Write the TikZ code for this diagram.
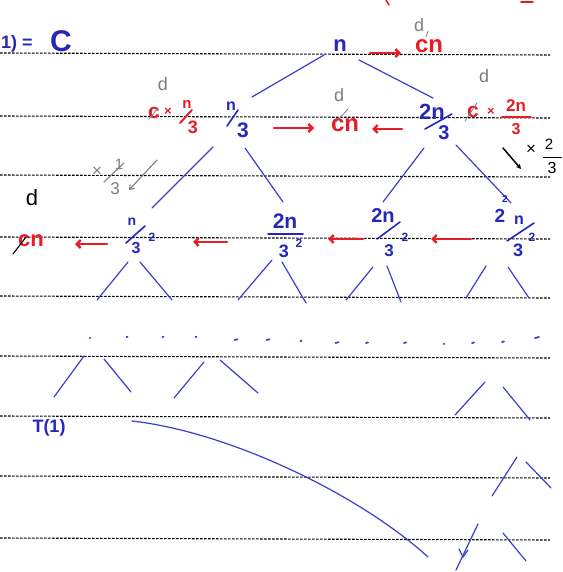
\documentclass[tikz,border=0pt]{standalone}
\usepackage{fontspec}
\setmainfont{Liberation Sans}
\usetikzlibrary{arrows.meta}
\definecolor{inkblue}{RGB}{38,38,185}
\definecolor{edgeblue}{RGB}{62,62,200}
\definecolor{inkred}{RGB}{232,28,38}
\definecolor{pencil}{RGB}{125,125,125}
\newcommand{\fs}[1]{\fontsize{#1}{#1}\selectfont}
\begin{document}
\begin{tikzpicture}[x=1pt,y=-1pt,
  bt/.style={text=inkblue, inner sep=0pt},
  rt/.style={text=inkred, inner sep=0pt},
  gt/.style={text=pencil, inner sep=0pt},
  kt/.style={text=black, inner sep=0pt},
  edge/.style={draw=edgeblue, line width=1.2pt, line cap=round},
  slashb/.style={draw=inkblue, line width=1.6pt, line cap=round},
  slashr/.style={draw=inkred, line width=2pt, line cap=round},
  rarr/.style={draw=inkred, line width=2.4pt, line cap=round, -{Straight Barb[length=4pt,width=8pt]}},
  rulel/.style={draw=black, line width=1.1pt, dash pattern=on 2.6pt off 1.4pt},
  greymark/.style={draw=pencil, line width=0.8pt, line cap=round},
  dotm/.style={draw=edgeblue, line width=1.8pt, line cap=round}]
\useasboundingbox (0,0) rectangle (562,572);
\fill[white] (0,0) rectangle (562,572);

% ruled lines
\foreach \y in {53,116,175,237,296,356,416,476,538}
  \draw[rulel] (0,\y) -- (550,{\y+2});

% top fragments (cut off)
\draw[slashr, line width=1.6pt] (386,0) -- (389,5);
\draw[slashr, line width=1.6pt] (521,2) -- (533,2);

% top-left
\node[bt, anchor=base west, font=\fs{18}\bfseries] (tl) at (1,49) {1) =};
\node[bt, anchor=base west, font=\fs{30}\bfseries] (tlc) at (50,52) {C};

% root
\node[bt, font=\fs{22}\bfseries] (root) at (340,46) {n};
\node[rt, font=\fs{24}\bfseries] (cnA) at (429,46) {cn};
\coordinate (raS) at (370,53);
\coordinate (raE) at (401,53);
\draw[rarr] (raS) -- (raE);
\node[gt, font=\fs{18}] (dA) at (419,25) {d};
\draw[greymark] (428,31) -- (426,37);

% root edges
\draw[edge] (324,55) -- (252,97);
\draw[edge] (359,60) -- (433,98);

% level 1 left: n/3
\node[bt, font=\fs{16}\bfseries] (l1n) at (231,106) {n};
\draw[slashb] (227,126) -- (238,110);
\node[bt, font=\fs{21}\bfseries] (l1d) at (243,130) {3};

% red c x n/3
\node[rt, font=\fs{21}\bfseries] (cA) at (154,113) {c};
\node[rt, font=\fs{13}\bfseries] (xA) at (168,112) {×};
\node[rt, font=\fs{15}\bfseries] (cAn) at (187,104) {n};
\draw[slashr] (180,123) -- (192,110);
\node[rt, font=\fs{18}\bfseries] (cAd) at (193,127) {3};
\node[gt, font=\fs{18}] (dB) at (163,84) {d};
\draw[greymark] (149,119) -- (158,108);

% middle arrows level 1
\node[rt, font=\fs{24}\bfseries] (cnB) at (345,125) {cn};
\coordinate (mbS) at (274,128);
\coordinate (mbE) at (314,128);
\draw[rarr] (mbS) -- (mbE);
\coordinate (mcS) at (402,129);
\coordinate (mcE) at (372,129);
\draw[rarr] (mcS) -- (mcE);
\node[gt, font=\fs{18}] (dC) at (339,95) {d};
\draw[greymark] (336,122) -- (348,109);

% level 1 right: 2n/3
\node[bt, font=\fs{22}\bfseries] (l2n) at (432,112) {2n};
\draw[slashb] (425,129) -- (452,114);
\node[bt, font=\fs{20}\bfseries] (l2d) at (444,133) {3};

% red c x 2n/3
\node[rt, font=\fs{21}\bfseries] (cC) at (473,112) {c};
\node[rt, font=\fs{13}\bfseries] (xC) at (491,112) {×};
\node[rt, font=\fs{17}\bfseries] (cCn) at (516,106) {2n};
\draw[slashr, line width=1.6pt] (502,117) -- (531,117);
\node[rt, font=\fs{16}\bfseries] (cCd) at (516,129) {3};
\node[gt, font=\fs{18}] (dD) at (484,76) {d};
\draw[greymark] (465,121) -- (477,103);

% black annotation right
\draw[black, line width=1.5pt, line cap=round, -{Stealth[length=5pt,width=5pt]}] (503,148) -- (521,169);
\node[kt, font=\fs{17}] (xR) at (531,150) {×};
\node[kt, font=\fs{15}] (twoR) at (549,144) {2};
\draw[black, line width=1pt] (543,158) -- (562,158);
\node[kt, font=\fs{16}] (threeR) at (552,168) {3};

% grey annotation left
\node[gt, font=\fs{17}] (xL) at (97,172) {×};
\node[gt, font=\fs{15}] (oneL) at (119,164) {1};
\draw[greymark, line width=1.1pt] (104,182) -- (124,163);
\node[gt, font=\fs{17}] (threeL) at (115,189) {3};
\draw[pencil, line width=1.1pt, line cap=round, -{Straight Barb[length=4pt,width=6pt]}] (157,160) -- (129,190);
\node[kt, font=\fs{22}] (dL) at (32,198) {d};

% level1 -> level2 edges
\draw[edge] (213,147) -- (152,208);
\draw[edge] (245,148) -- (283,202);
\draw[edge] (424,148) -- (383,202);
\draw[edge] (456,145) -- (511,203);

% level 2 nodes
\node[bt, font=\fs{14}\bfseries] (aN) at (132,222) {n};
\draw[slashb] (126,243) -- (145,226);
\node[bt, font=\fs{16}\bfseries] (aD) at (136,248) {3};
\node[bt, font=\fs{12}\bfseries] (aE) at (152,237) {2};

\node[bt, font=\fs{21}\bfseries] (bN) at (285,221) {2n};
\draw[slashb, line width=1.8pt] (268,234) -- (303,234);
\node[bt, font=\fs{18}\bfseries] (bD) at (284,251) {3};
\node[bt, font=\fs{12}\bfseries] (bE) at (299,243) {2};

\node[bt, font=\fs{20}\bfseries] (cN) at (383,216) {2n};
\draw[slashb] (377,239) -- (400,222);
\node[bt, font=\fs{17}\bfseries] (cD) at (389,251) {3};
\node[bt, font=\fs{12}\bfseries] (cE) at (405,237) {2};

\node[bt, font=\fs{19}\bfseries] (dN2) at (500,216) {2};
\node[bt, font=\fs{10}\bfseries] (dNe) at (505,199) {2};
\node[bt, font=\fs{16}\bfseries] (dNn) at (519,220) {n};
\draw[slashb] (507,241) -- (534,223);
\node[bt, font=\fs{18}\bfseries] (dDd) at (518,250) {3};
\node[bt, font=\fs{12}\bfseries] (dE) at (532,237) {2};

% red arrows level 2
\node[rt, font=\fs{22}\bfseries] (cnL) at (31,241) {cn};
\draw[black, line width=1.1pt, line cap=round] (13,254) -- (26,237);
\coordinate (a1S) at (107,244); \coordinate (a1E) at (75,244);
\draw[rarr] (a1S) -- (a1E);
\coordinate (a2S) at (227,242); \coordinate (a2E) at (193,242);
\draw[rarr] (a2S) -- (a2E);
\coordinate (a3S) at (363,239); \coordinate (a3E) at (328,239);
\draw[rarr] (a3S) -- (a3E);
\coordinate (a4S) at (471,239); \coordinate (a4E) at (431,239);
\draw[rarr] (a4S) -- (a4E);

% level2 -> level3 edges
\draw[edge] (128,262) -- (97,300);
\draw[edge] (140,262) -- (172,300);
\draw[edge] (272,260) -- (238,300);
\draw[edge] (282,262) -- (306,303);
\draw[edge] (373,267) -- (346,300);
\draw[edge] (387,266) -- (401,302);
\draw[edge] (486,266) -- (466,298);
\draw[edge] (508,267) -- (529,298);

% dots row
\foreach \x/\y/\l in {90/338/0.5,127/337/1,163/337/1,196/337/1,236/340/3,268/340/3,301/341/1,337/343/3,367/343/2,405/343/2,444/344/0.5,473/343/2,503/342/2,537/338/4}
  \draw[dotm] ({\x-\l/2},\y) -- ({\x+\l/2},{\y-\l/4});

% lower strokes
\draw[edge] (84,356) -- (54,397);
\draw[edge] (104,359) -- (131,392);
\draw[edge] (204,362) -- (174,398);
\draw[edge] (220,360) -- (258,393);
\draw[edge] (485,382) -- (455,415);
\draw[edge] (503,387) -- (530,420);

% T(1)
\node[bt, font=\fs{18}\bfseries] (t1) at (49,428) {T(1)};

% long curve
\draw[edge] (132,421) .. controls (230,432) and (360,495) .. (428,557);

% bottom right
\draw[edge] (517,457) -- (492,496);
\draw[edge] (526,462) -- (551,488);
\draw[edge] (478,524) -- (456,570);
\draw[edge] (459,549) -- (463,557) -- (468,550);
\draw[edge] (503,533) -- (526,561);
\end{tikzpicture}
\end{document}
